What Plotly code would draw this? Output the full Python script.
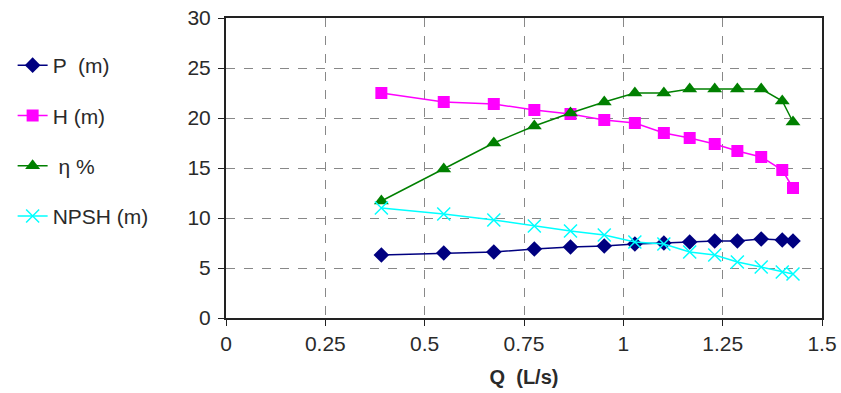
import plotly.graph_objects as go

Q = [0.391, 0.548, 0.674, 0.776, 0.867, 0.952, 1.029, 1.102, 1.167, 1.230, 1.287, 1.347, 1.400, 1.427]
P = [6.3, 6.5, 6.6, 6.9, 7.1, 7.2, 7.4, 7.5, 7.6, 7.7, 7.7, 7.9, 7.8, 7.7]
H = [22.5, 21.6, 21.4, 20.8, 20.4, 19.8, 19.5, 18.5, 18.0, 17.4, 16.7, 16.1, 14.8, 13.0]
ETA = [11.7, 14.9, 17.5, 19.2, 20.5, 21.6, 22.5, 22.5, 22.9, 22.9, 22.9, 22.9, 21.7, 19.6]
NPSH = [11.0, 10.4, 9.8, 9.2, 8.7, 8.3, 7.6, 7.4, 6.6, 6.3, 5.6, 5.1, 4.6, 4.4]

names = ["P  (m)", "H (m)", " η %", "NPSH (m)"]
colors = ["#000080", "#FF00FF", "#008000", "#00FFFF"]
symbols = ["diamond", "square", "triangle-up", "x-thin-open"]
sizes = [12, 12, 13, 13]
series = [P, H, ETA, NPSH]

FONT = "Liberation Sans, Arial"
TXT = "#2a2a2a"

fig = go.Figure()
for i, (nm, col, sym, sz, ys) in enumerate(zip(names, colors, symbols, sizes, series)):
    marker = dict(symbol=sym, size=sz, color=col)
    if sym == "x-thin-open":
        marker["line"] = dict(color=col, width=1.5)
    fig.add_trace(go.Scatter(
        x=Q, y=ys, name=nm, mode="lines+markers",
        line=dict(color=col, width=1.5),
        marker=marker, legendgroup=f"g{i}",
    ))

axis_common = dict(
    showline=True, linecolor="#222", linewidth=2, mirror=True,
    gridcolor="#888", griddash="dash", gridwidth=1,
    ticks="outside", ticklen=6, tickcolor="#222",
    tickfont=dict(family=FONT, size=21, color=TXT),
    zeroline=False, automargin=False,
)

fig.update_xaxes(range=[0, 1.5], dtick=0.25, tick0=0,
                 title=dict(text="<b>Q  (L/s)</b>", standoff=16,
                            font=dict(family=FONT, size=20, color=TXT)),
                 **axis_common)
fig.update_yaxes(range=[0, 30], dtick=5, tick0=0, ticklabelstandoff=3, **axis_common)

fig.update_layout(
    width=841, height=393,
    margin=dict(l=223, r=19, t=18, b=75),
    plot_bgcolor="white", paper_bgcolor="white",
    font=dict(family=FONT, size=21, color=TXT),
    legend=dict(x=-0.358, xanchor="left", y=0.91, yanchor="top",
                tracegroupgap=20, font=dict(family=FONT, size=21, color=TXT),
                bgcolor="rgba(0,0,0,0)"),
    showlegend=True,
)

fig.write_html("out.html")
